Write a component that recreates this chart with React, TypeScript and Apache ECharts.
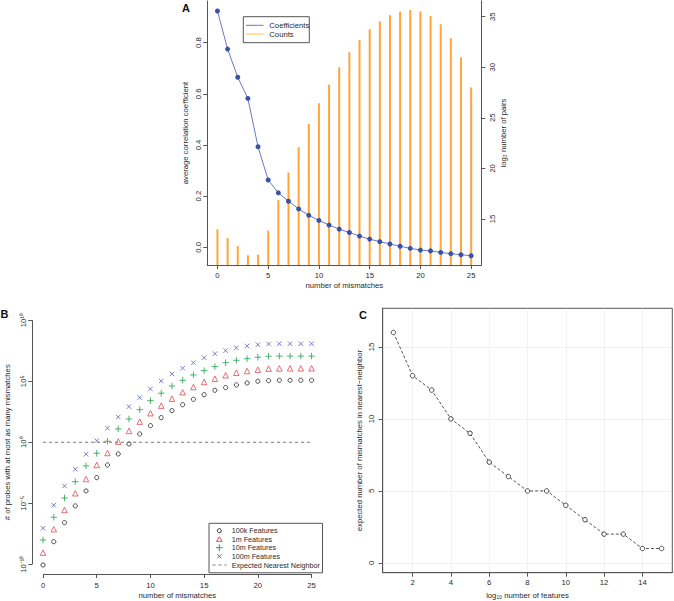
import React, { useEffect, useRef } from "react";
import * as echarts from "echarts";

// ---------- Panel A ----------
const mismatchesA = [0, 1, 2, 3, 4, 5, 6, 7, 8, 9, 10, 11, 12, 13, 14, 15, 16, 17, 18, 19, 20, 21, 22, 23, 24, 25];
const coefficients = [0.924, 0.775, 0.665, 0.582, 0.393, 0.263, 0.213, 0.18, 0.15, 0.125, 0.105, 0.087, 0.071, 0.058, 0.044, 0.032, 0.022, 0.013, 0.004, -0.004, -0.011, -0.014, -0.02, -0.025, -0.029, -0.033];
const log2Pairs = [13.98, 13.12, 12.33, 11.41, 11.47, 13.84, 16.88, 19.58, 22.09, 24.4, 26.44, 28.28, 30.0, 31.48, 32.7, 33.75, 34.54, 35.14, 35.5, 35.66, 35.53, 35.07, 34.25, 32.86, 30.98, 28.0];
const ticksAx = [0, 5, 10, 15, 20, 25];
const ticksAyLeft = [0, 0.2, 0.4, 0.6, 0.8];
const ticksAyRight = [15, 20, 25, 30, 35];

// ---------- Panel B (log10 of # probes) ----------
const mismatchesB = [0, 1, 2, 3, 4, 5, 6, 7, 8, 9, 10, 11, 12, 13, 14, 15, 16, 17, 18, 19, 20, 21, 22, 23, 24, 25];
const log10Probes100k = [-10.06, -8.15, -6.59, -5.22, -3.99, -2.9, -1.86, -0.96, -0.14, 0.68, 1.36, 2.02, 2.59, 3.08, 3.52, 3.9, 4.26, 4.48, 4.7, 4.86, 5.0, 5.05, 5.08, 5.08, 5.08, 5.08];
const log10Probes1m = [-9.05, -7.13, -5.55, -4.18, -3.01, -1.86, -0.88, 0.05, 0.93, 1.69, 2.38, 3.0, 3.57, 4.1, 4.53, 4.94, 5.21, 5.49, 5.7, 5.84, 5.95, 6.03, 6.05, 6.06, 6.06, 6.06];
const log10Probes10m = [-8.01, -6.15, -4.57, -3.23, -1.94, -0.9, 0.08, 1.09, 1.91, 2.67, 3.41, 4.02, 4.61, 5.08, 5.52, 5.87, 6.2, 6.52, 6.72, 6.85, 6.97, 7.05, 7.06, 7.06, 7.06, 7.06];
const log10Probes100m = [-7.05, -5.16, -3.58, -2.21, -0.98, 0.13, 1.15, 2.07, 2.92, 3.66, 4.37, 5.02, 5.6, 6.07, 6.52, 6.93, 7.26, 7.51, 7.75, 7.89, 8.0, 8.06, 8.08, 8.08, 8.08, 8.08];
const nearestNeighborX = [0, 25];
const expectedNearestNeighbor = 1;
const ticksBx = [0, 5, 10, 15, 20, 25];
const ticksBy = [-10, -5, 0, 5, 10];
const legendB = ["100k Features", "1m Features", "10m Features", "100m Features", "Expected Nearest Neighbor"];

// ---------- Panel C ----------
const log10Features = [1, 2, 3, 4, 5, 6, 7, 8, 9, 10, 11, 12, 13, 14, 15];
const expectedMismatches = [16, 13, 12, 10, 9, 7, 6, 5, 5, 4, 3, 2, 2, 1, 1];
const ticksCx = [2, 4, 6, 8, 10, 12, 14];
const ticksCy = [0, 5, 10, 15];

const FONT = '"Liberation Sans", Arial, Helvetica, sans-serif';
const TXT = "#2a2a2a";
const AX = "#555";
const FS = 7.7;
const BLUE_PT = "#3A52A6";
const BLUE_LN = "#6A78C4";
const ORANGE = "#FFA53A";
const C_BLACK = "#222";
const C_RED = "#E34A50";
const C_GREEN = "#22A24A";
const C_BLUE = "#5563C1";

const SUP: Record<string, string> = { "0": "⁰", "1": "¹", "2": "²", "3": "³", "4": "⁴", "5": "⁵", "6": "⁶", "7": "⁷", "8": "⁸", "9": "⁹", "-": "⁻" };
const supFmt = (v: number) => "10" + String(Math.round(v)).split("").map((c) => SUP[c] || c).join("");

const txtStyle = { fontSize: FS, color: TXT, fontFamily: FONT };

function xAx(gridIndex: number, min: number, max: number, ticks: number[], name: string, showLine: boolean, margin: number, nameGap: number) {
  return {
    type: "value", gridIndex, min, max, name, nameLocation: "middle", nameGap,
    nameTextStyle: txtStyle,
    axisLine: { show: showLine, onZero: false, lineStyle: { color: AX, width: 1 } },
    axisTick: { show: true, customValues: ticks, length: 4, lineStyle: { color: AX, width: 1 } },
    axisLabel: { customValues: ticks, margin, ...txtStyle },
    splitLine: { show: false },
  };
}

function yAx(gridIndex: number, min: number, max: number, ticks: number[], name: string, showLine: boolean, margin: number, nameGap: number, position: string, fmt?: (v: number) => string) {
  return {
    type: "value", gridIndex, min, max, name, position, nameLocation: "middle", nameGap, nameRotate: 90,
    nameTextStyle: txtStyle,
    axisLine: { show: showLine, onZero: false, lineStyle: { color: AX, width: 1 } },
    axisTick: { show: true, customValues: ticks, length: 4, lineStyle: { color: AX, width: 1 } },
    axisLabel: { customValues: ticks, margin, rotate: 90, formatter: fmt, ...txtStyle },
    splitLine: { show: false },
  };
}

function txt(text: string, x: number, y: number, extra: any = {}) {
  return {
    type: "text", x, y,
    style: { text, fontSize: FS, fontFamily: FONT, fill: TXT, align: "left", verticalAlign: "middle", textAlign: "left", textVerticalAlign: "middle", ...extra },
  };
}

function buildOption() {
  const yB = (arr: number[]) => mismatchesB.map((x, i) => [x, arr[i]]);
  const log10NN = Math.log10(expectedNearestNeighbor);
  const scatterB = (name: string, arr: number[], symbol: string, size: number, color: string) => ({
    type: "scatter", name, xAxisIndex: 1, yAxisIndex: 2, data: yB(arr), symbol, symbolSize: size,
    itemStyle: { color: "transparent", borderColor: color, borderWidth: 1 }, silent: true,
  });
  const rightMin = 10.45;

  return {
    animation: false,
    backgroundColor: "#fff",
    textStyle: { fontFamily: FONT },
    grid: [
      { left: 207.3, top: 1, width: 274, height: 264 },
      { left: 32.3, top: 310.5, width: 290, height: 263.5 },
      { left: 382.7, top: 308.3, width: 289.6, height: 264.4, show: true, borderColor: AX, borderWidth: 1, backgroundColor: "transparent" },
    ],
    xAxis: [
      xAx(0, -1, 26, ticksAx, "number of mismatches", true, 6, 16.5),
      xAx(1, -1, 26, ticksBx, "number of mismatches", false, 7, 17.5),
      xAx(2, 0.44, 15.56, ticksCx, "log₁₀ number of features", true, 6, 18.5),
    ],
    yAxis: [
      yAx(0, -0.0692, 0.963, ticksAyLeft, "average correlation coefficient", true, 5, 18, "left", (v) => v.toFixed(1)),
      yAx(0, rightMin, 36.55, ticksAyRight, "log₂ number of pairs", true, 7, 18.5, "right"),
      yAx(1, -10.8, 10.8, ticksBy, "# of probes with at most as many mismatches", false, 5, 20.5, "left", supFmt),
      yAx(2, -0.68, 17.68, ticksCy, "expected number of mismatches in nearest−neighbor", true, 7.5, 19, "left"),
    ],
    series: [
      // Panel A: counts as vertical lines from the bottom of the plot
      {
        type: "custom", name: "Counts", xAxisIndex: 0, yAxisIndex: 1, silent: true,
        data: mismatchesA.map((x, i) => [x, log2Pairs[i]]),
        renderItem: (params: any, api: any) => {
          const top = api.coord([api.value(0), api.value(1)]);
          const base = api.coord([api.value(0), rightMin]);
          return { type: "line", shape: { x1: top[0], y1: base[1], x2: top[0], y2: top[1] }, style: { stroke: ORANGE, lineWidth: 2 } };
        },
      },
      {
        type: "line", name: "Coefficients", xAxisIndex: 0, yAxisIndex: 0, silent: true,
        data: mismatchesA.map((x, i) => [x, coefficients[i]]),
        symbol: "circle", symbolSize: 5, showSymbol: true,
        itemStyle: { color: BLUE_PT },
        lineStyle: { color: BLUE_LN, width: 1 },
      },
      // Panel B
      {
        type: "line", name: "Expected Nearest Neighbor", xAxisIndex: 1, yAxisIndex: 2, silent: true,
        data: nearestNeighborX.map((x) => [x, log10NN]),
        symbol: "none", lineStyle: { color: "#777", width: 1, type: [3, 3] },
        markLine: {
          silent: true, symbol: ["none", "none"], label: { show: false },
          lineStyle: { type: "solid", color: AX, width: 1 },
          data: [
            [{ coord: [-1, ticksBy[0]] }, { coord: [-1, ticksBy[ticksBy.length - 1]] }],
            [{ coord: [ticksBx[0], -10.8] }, { coord: [ticksBx[ticksBx.length - 1], -10.8] }],
          ],
        },
      },
      scatterB("100k Features", log10Probes100k, "circle", 4.2, C_BLACK),
      scatterB("1m Features", log10Probes1m, "triangle", 5.5, C_RED),
      scatterB("10m Features", log10Probes10m, "path://M5,0L5,10M0,5L10,5", 6.5, C_GREEN),
      scatterB("100m Features", log10Probes100m, "path://M0,0L10,10M10,0L0,10", 4.5, C_BLUE),
      // Panel C
      {
        type: "line", name: "expected", xAxisIndex: 2, yAxisIndex: 3, silent: true,
        data: log10Features.map((x, i) => [x, expectedMismatches[i]]),
        symbol: "circle", symbolSize: 4.5, showSymbol: true,
        itemStyle: { color: "#fff", borderColor: "#444", borderWidth: 1 },
        lineStyle: { color: "#555", width: 1, type: [3, 2] },
        markLine: {
          silent: true, symbol: ["none", "none"], label: { show: false },
          lineStyle: { type: "dotted", color: "#e6e6e6", width: 1 },
          data: [...ticksCx.map((v) => ({ xAxis: v })), ...ticksCy.map((v) => ({ yAxis: v }))],
          z: 0,
        },
      },
    ],
    graphic: [
      // panel letters
      txt("A", 186, 8, { fontSize: 11, fontWeight: "bold", fill: "#111", align: "center", textAlign: "center" }),
      txt("B", 4.5, 313.5, { fontSize: 11, fontWeight: "bold", fill: "#111", align: "center", textAlign: "center" }),
      txt("C", 363, 315, { fontSize: 11, fontWeight: "bold", fill: "#111", align: "center", textAlign: "center" }),
      // legend A
      { type: "rect", shape: { x: 243.3, y: 16.7, width: 66, height: 26 }, style: { fill: "#fff", stroke: AX, lineWidth: 1 } },
      { type: "line", shape: { x1: 246, y1: 25.3, x2: 263.5, y2: 25.3 }, style: { stroke: BLUE_LN, lineWidth: 1 } },
      { type: "line", shape: { x1: 246, y1: 34, x2: 263.5, y2: 34 }, style: { stroke: "#FFC040", lineWidth: 1 } },
      txt("Coefficients", 269.3, 25.3),
      txt("Counts", 269.3, 34),
      // legend B
      { type: "rect", shape: { x: 209, y: 523.3, width: 113.5, height: 49.5 }, style: { fill: "#fff", stroke: AX, lineWidth: 1 } },
      { type: "circle", shape: { cx: 219.3, cy: 530.7, r: 2 }, style: { fill: "none", stroke: C_BLACK, lineWidth: 1 } },
      { type: "polygon", shape: { points: [[219.3, 536.8], [216.5, 541.4], [222.1, 541.4]] }, style: { fill: "none", stroke: C_RED, lineWidth: 1 } },
      { type: "line", shape: { x1: 216, y1: 547.7, x2: 222.6, y2: 547.7 }, style: { stroke: C_GREEN, lineWidth: 1 } },
      { type: "line", shape: { x1: 219.3, y1: 544.4, x2: 219.3, y2: 551 }, style: { stroke: C_GREEN, lineWidth: 1 } },
      { type: "line", shape: { x1: 217.3, y1: 554.3, x2: 221.3, y2: 558.3 }, style: { stroke: C_BLUE, lineWidth: 1 } },
      { type: "line", shape: { x1: 221.3, y1: 554.3, x2: 217.3, y2: 558.3 }, style: { stroke: C_BLUE, lineWidth: 1 } },
      { type: "line", shape: { x1: 212.5, y1: 565, x2: 226.5, y2: 565 }, style: { stroke: "#777", lineWidth: 1, lineDash: [3, 3] } },
      txt(legendB[0], 231.7, 530.7, { fontSize: 7.2 }),
      txt(legendB[1], 231.7, 539.3, { fontSize: 7.2 }),
      txt(legendB[2], 231.7, 547.7, { fontSize: 7.2 }),
      txt(legendB[3], 231.7, 556.3, { fontSize: 7.2 }),
      txt(legendB[4], 231.7, 565, { fontSize: 7.2 }),
    ],
  };
}

export default function App() {
  const ref = useRef<HTMLDivElement>(null);
  useEffect(() => {
    if (!ref.current) return;
    const chart = echarts.init(ref.current, null, { renderer: "svg" });
    chart.setOption(buildOption() as any);
    return () => chart.dispose();
  }, []);
  return (
    <div
      ref={ref}
      style={{ position: "absolute", left: 0, top: 0, width: 674, height: 601, background: "#fff" }}
    />
  );
}
